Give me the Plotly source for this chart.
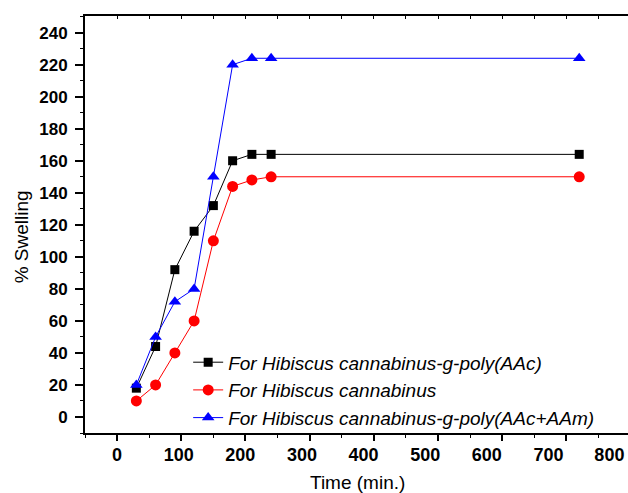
import plotly.graph_objects as go

# ---- data ----
time_min = [30, 60, 90, 120, 150, 180, 210, 240, 720]
swell_aac = [18, 44, 92, 116, 132, 160, 164, 164, 164]
swell_hc = [10, 20, 40, 60, 110, 144, 148, 150, 150]
swell_aac_aam = [20, 50, 72, 80, 150, 220, 224, 224, 224]

names = [
    "For Hibiscus cannabinus-g-poly(AAc)",
    "For Hibiscus cannabinus",
    "For Hibiscus cannabinus-g-poly(AAc+AAm)",
]

x_label_text = ["0", "100", "200", "300", "400", "500", "600", "700", "800"]
x_label_pos = [0, 96, 192, 288, 384, 480, 576, 672, 767]
y_ticks = list(range(0, 241, 20))

FONT = "Liberation Sans, Arial, sans-serif"
XR = [-50, 796]
YR = [-10, 250.4]

fig = go.Figure()
fig.add_trace(go.Scatter(x=time_min, y=swell_aac, name=names[0], mode="lines+markers",
                         line=dict(color="black", width=1),
                         marker=dict(symbol="square", size=9, color="black")))
fig.add_trace(go.Scatter(x=time_min, y=swell_hc, name=names[1], mode="lines+markers",
                         line=dict(color="red", width=1),
                         marker=dict(symbol="circle", size=11, color="red")))
fig.add_trace(go.Scatter(x=time_min, y=swell_aac_aam, name=names[2], mode="lines+markers",
                         line=dict(color="blue", width=1),
                         marker=dict(symbol="triangle-up", size=11, color="blue")))
# invisible helper traces so the overlay axes (labels / top ticks) get drawn
for ax in ("x2", "x3"):
    fig.add_trace(go.Scatter(x=[time_min[0]], y=[swell_aac[0]], xaxis=ax, yaxis="y",
                             mode="markers", marker=dict(opacity=0), showlegend=False,
                             hoverinfo="skip"))

fig.update_layout(
    width=628, height=493,
    margin=dict(l=85, r=0, t=16, b=60, pad=0),
    paper_bgcolor="white", plot_bgcolor="white",
    font=dict(family=FONT, color="black"),
    showlegend=True,
    legend=dict(x=0.19, y=0.215, xanchor="left", yanchor="top",
                bgcolor="rgba(0,0,0,0)", borderwidth=0,
                font=dict(family=FONT, size=19, color="black", style="italic"),
                itemwidth=30, tracegroupgap=0),
    xaxis=dict(range=XR, showgrid=False, zeroline=False,
               showline=True, linecolor="black", linewidth=2,
               ticks="outside", tickmode="linear", tick0=0, dtick=100,
               ticklen=6, tickwidth=2, tickcolor="black",
               showticklabels=False,
               minor=dict(ticks="outside", dtick=50, tick0=0, ticklen=3, tickwidth=1, tickcolor="black")),
    xaxis2=dict(range=XR, overlaying="x", side="bottom", anchor="y",
                showgrid=False, zeroline=False, showline=False,
                tickmode="array", tickvals=x_label_pos,
                ticktext=["<b>" + t + "</b>" for t in x_label_text],
                ticks="outside", ticklen=2, tickcolor="rgba(0,0,0,0)",
                tickfont=dict(family=FONT, size=18, color="black"),
                ticklabelstandoff=3),
    xaxis3=dict(range=XR, overlaying="x", side="top", anchor="y",
                showgrid=False, zeroline=False, showline=True,
                linecolor="black", linewidth=2,
                ticks="inside", tickmode="linear", tick0=0, dtick=50,
                ticklen=3, tickwidth=1, tickcolor="black", showticklabels=False),
    yaxis=dict(range=YR, showgrid=False, zeroline=False,
               showline=True, linecolor="black", linewidth=2,
               ticks="outside", tickmode="array", tickvals=y_ticks,
               ticktext=["<b>" + str(v) + "</b>" for v in y_ticks],
               ticklen=8, tickwidth=2, tickcolor="black",
               tickfont=dict(family=FONT, size=17, color="black"),
               ticklabelstandoff=4,
               minor=dict(ticks="outside", dtick=10, tick0=0, ticklen=3, tickwidth=1, tickcolor="black")),
    annotations=[
        dict(text="Time (min.)", xref="paper", yref="paper",
             x=(357 - 85) / 543, y=(432.7 - 482) / 417, xanchor="center", yanchor="middle",
             showarrow=False, font=dict(family=FONT, size=19, color="black")),
        dict(text="% Swelling", xref="paper", yref="paper",
             x=(21 - 85) / 543, y=(432.7 - 237) / 417, xanchor="center", yanchor="middle",
             textangle=-90, showarrow=False, font=dict(family=FONT, size=19, color="black")),
    ],
)

fig.write_html("out.html")
